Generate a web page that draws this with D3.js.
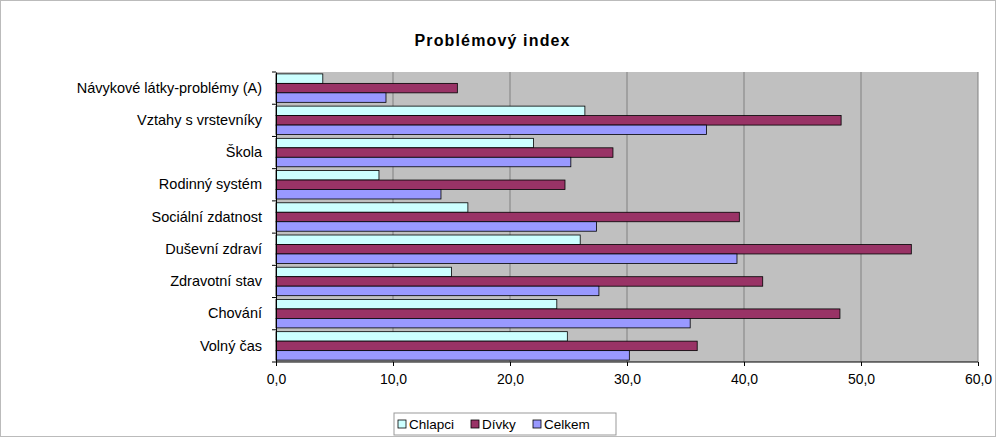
<!DOCTYPE html>
<html><head><meta charset="utf-8">
<script src="https://cdn.jsdelivr.net/npm/d3@7"></script>
<style>body{margin:0;background:#fff}svg{font-family:"Liberation Sans",Arial,sans-serif}</style>
</head><body>
<script>
const categories = ["Návykové látky-problémy (A)", "Vztahy s vrstevníky", "Škola", "Rodinný systém",
  "Sociální zdatnost", "Duševní zdraví", "Zdravotní stav", "Chování", "Volný čas"];
const chlapci = [4.0, 26.4, 22.0, 8.8, 16.4, 26.0, 15.0, 24.0, 24.9];
const divky = [15.5, 48.3, 28.8, 24.7, 39.6, 54.3, 41.6, 48.2, 36.0];
const celkem = [9.4, 36.8, 25.2, 14.1, 27.4, 39.4, 27.6, 35.4, 30.2];
const seriesNames = ["Chlapci", "Dívky", "Celkem"];
const seriesColors = ["#CCFFFF", "#993366", "#9999FF"];
const xTicks = [0, 10, 20, 30, 40, 50, 60];

const width = 996, height = 437;
const pLeft = 276, pRight = 978, pTop = 72, pBottom = 362;

const svg = d3.select("body").append("svg").attr("width", width).attr("height", height);
svg.append("rect").attr("x", 0.5).attr("y", 0.5).attr("width", width - 1).attr("height", height - 1)
  .attr("fill", "#fff").attr("stroke", "#bbb");

svg.append("text").attr("x", 492).attr("y", 46).attr("text-anchor", "middle")
  .attr("font-size", 16).attr("font-weight", "bold").attr("textLength", 155).text("Problémový index");

const x = d3.scaleLinear().domain([0, 60]).range([pLeft, pRight]);
const y = d3.scaleBand().domain(categories).range([pTop, pBottom]);
const inner = d3.scaleBand().domain([0, 1, 2]).range([0, y.bandwidth()]).paddingOuter(0.2);

svg.append("rect").attr("x", pLeft).attr("y", pTop).attr("width", pRight - pLeft).attr("height", pBottom - pTop)
  .attr("fill", "#C0C0C0");

svg.selectAll("line.grid").data(xTicks.slice(1)).enter().append("line")
  .attr("x1", d => x(d)).attr("x2", d => x(d)).attr("y1", pTop).attr("y2", pBottom)
  .attr("stroke", "#808080");

const data = [chlapci, divky, celkem];
data.forEach((vals, s) => {
  svg.selectAll("rect.s" + s).data(vals).enter().append("rect")
    .attr("x", x(0)).attr("y", (d, i) => y(categories[i]) + inner(s))
    .attr("width", d => x(d) - x(0)).attr("height", inner.bandwidth())
    .attr("fill", seriesColors[s]).attr("stroke", "#000").attr("stroke-width", 0.8);
});

const xAxis = svg.append("g").attr("transform", `translate(0,${pBottom})`)
  .call(d3.axisBottom(x).tickValues(xTicks).tickSize(4).tickFormat(d => d.toFixed(1).replace(".", ",")));
xAxis.selectAll("text").attr("font-size", 14).attr("fill", "#000").attr("dy", "1.1em")
  .attr("font-family", "Liberation Sans, Arial, sans-serif");
xAxis.select(".domain").attr("d", `M${pLeft},0H${pRight}`);

const yAxis = svg.append("g").attr("transform", `translate(${pLeft},0)`)
  .call(d3.axisLeft(y).tickSize(4).tickSizeOuter(0));
yAxis.selectAll(".tick line").remove();
yAxis.selectAll("text").attr("font-size", 14.5).attr("fill", "#000").attr("x", -14)
  .attr("font-family", "Liberation Sans, Arial, sans-serif");
yAxis.selectAll("line.sep").data(d3.range(categories.length + 1)).enter().append("line")
  .attr("x1", -4).attr("x2", 0).attr("y1", i => pTop + i * y.step()).attr("y2", i => pTop + i * y.step())
  .attr("stroke", "#000");

const lg = svg.append("g");
lg.append("rect").attr("x", 394).attr("y", 413).attr("width", 222).attr("height", 22)
  .attr("fill", "#fff").attr("stroke", "#999");
const lx = [398, 471, 533];
seriesNames.forEach((n, i) => {
  lg.append("rect").attr("x", lx[i]).attr("y", 420).attr("width", 8).attr("height", 8)
    .attr("fill", seriesColors[i]).attr("stroke", "#000").attr("stroke-width", 0.8);
  lg.append("text").attr("x", lx[i] + 11).attr("y", 429).attr("font-size", 13.5).text(n);
});
</script>
</body></html>
